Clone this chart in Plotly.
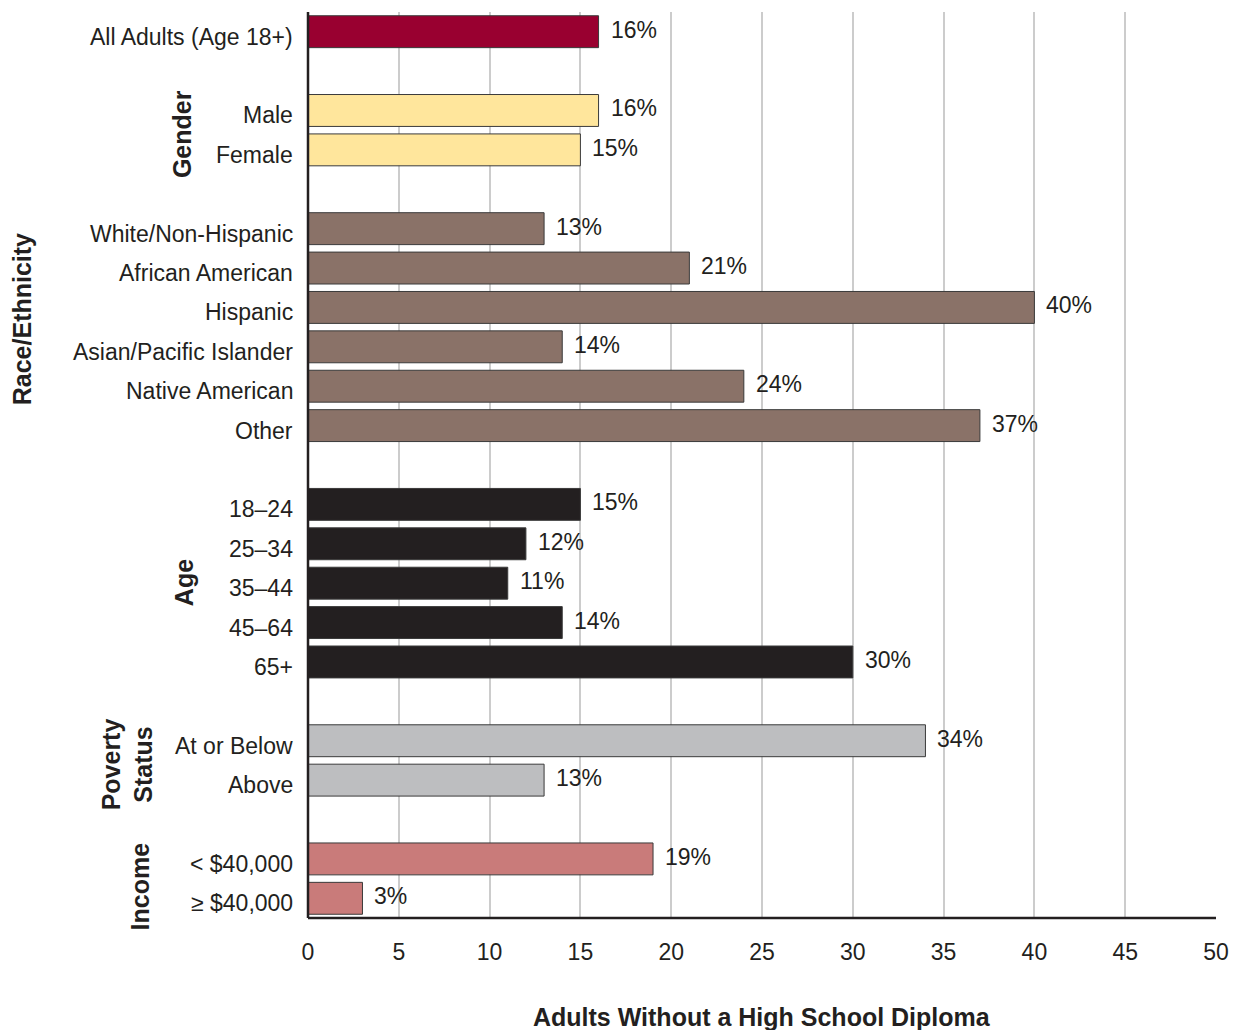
import plotly.graph_objects as go

# Adults without a high school diploma, by group (percent)
categories = [
    "All Adults (Age 18+)",
    "Male", "Female",
    "White/Non-Hispanic", "African American", "Hispanic",
    "Asian/Pacific Islander", "Native American", "Other",
    "18\u201324", "25\u201334", "35\u201344", "45\u201364", "65+",
    "At or Below", "Above",
    "< $40,000", "\u2265 $40,000",
]
values = [16, 16, 15, 13, 21, 40, 14, 24, 37, 15, 12, 11, 14, 30, 34, 13, 19, 3]
groups = ["all", "gender", "gender", "race", "race", "race", "race", "race", "race",
          "age", "age", "age", "age", "age", "poverty", "poverty", "income", "income"]
# row slot of each bar (blank slots separate the groups)
slots = [0, 2, 3, 5, 6, 7, 8, 9, 10, 12, 13, 14, 15, 16, 18, 19, 21, 22]

group_colors = {
    "all": "#990030",
    "gender": "#FFE69C",
    "race": "#8A7268",
    "age": "#231F20",
    "poverty": "#BDBEC0",
    "income": "#C97B7A",
}
group_titles = [
    # (text, pixel offset from the axis, slot center)
    ("Gender", -126, 2.6),
    ("Race/Ethnicity", -286, 7.3),
    ("Age", -124, 14.0),
    ("Poverty<br>Status", -181, 18.6),
    ("Income", -168, 21.7),
]
x_ticks = [0, 5, 10, 15, 20, 25, 30, 35, 40, 45, 50]
x_title = "Adults Without a High School Diploma"

FONT = "Liberation Sans, Arial, sans-serif"
INK = "#231F20"

fig = go.Figure(
    go.Bar(
        x=values,
        y=slots,
        orientation="h",
        width=0.81,
        marker=dict(color=[group_colors[g] for g in groups],
                    line=dict(color="#3a3a3a", width=1)),
        hoverinfo="skip",
    )
)

annotations = []
# category labels left of the axis
for cat, s in zip(categories, slots):
    annotations.append(dict(
        x=0, xref="paper", y=s, yref="y", text=cat, showarrow=False,
        xanchor="right", yanchor="middle", xshift=-13, yshift=-5,
        font=dict(family=FONT, size=23, color=INK),
    ))
# value labels right of each bar
for v, s in zip(values, slots):
    annotations.append(dict(
        x=v, xref="x", y=s, yref="y", text=f"{v}%", showarrow=False,
        xanchor="left", yanchor="middle", xshift=10, yshift=2,
        font=dict(family=FONT, size=23, color=INK),
    ))
# rotated group titles
for text, dx, s in group_titles:
    annotations.append(dict(
        x=0, xref="paper", y=s, yref="y", text=text, showarrow=False,
        xanchor="center", yanchor="middle", xshift=dx, textangle=-90,
        font=dict(family=FONT, size=25, color=INK, weight="bold"),
    ))
# x-axis title
annotations.append(dict(
    x=0.5, xref="paper", y=0, yref="paper", text=x_title, showarrow=False,
    xanchor="center", yanchor="middle", yshift=-99,
    font=dict(family=FONT, size=25, color=INK, weight="bold"),
))

fig.update_layout(
    width=1237, height=1030,
    margin=dict(l=308, r=21, t=12, b=112),
    paper_bgcolor="white", plot_bgcolor="white",
    showlegend=False,
    annotations=annotations,
    xaxis=dict(
        range=[0, 50], tickvals=x_ticks, ticks="", showgrid=True,
        gridcolor="#CCCCCC", gridwidth=1.5, zeroline=False,
        showline=False, automargin=False,
        tickfont=dict(family=FONT, size=23, color=INK),
        ticklabelstandoff=18,
    ),
    yaxis=dict(
        range=[22.5, -0.5], showticklabels=False, ticks="", showgrid=False,
        zeroline=False, showline=False, automargin=False,
    ),
    shapes=[
        dict(type="line", xref="paper", yref="paper", x0=0, x1=0, y0=0, y1=1,
             line=dict(color=INK, width=2.5), layer="above"),
        dict(type="line", xref="paper", yref="paper", x0=0, x1=1, y0=0, y1=0,
             line=dict(color=INK, width=2.5), layer="above"),
    ],
)

fig.write_html("out.html")
